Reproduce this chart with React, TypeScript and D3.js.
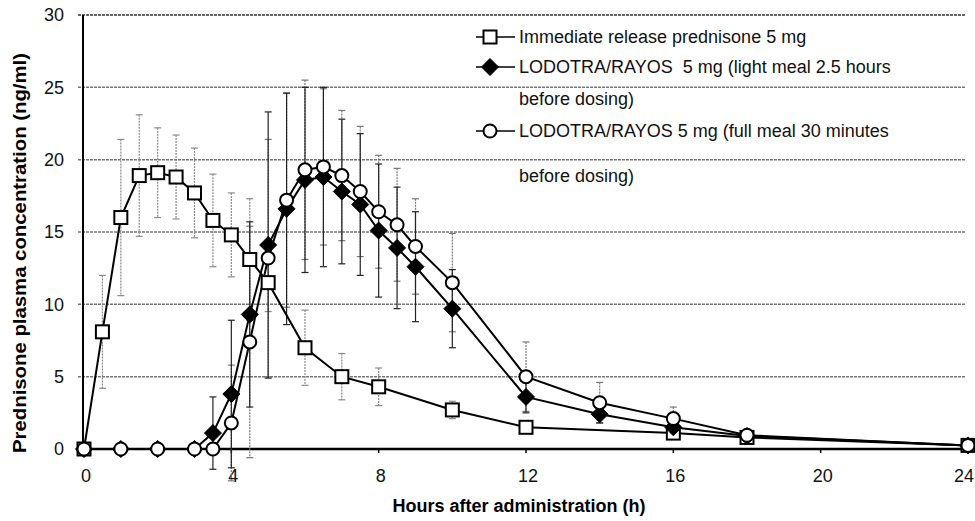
import React from "react";
import * as d3 from "d3";

const W = 975;
const H = 521;

const yTicks = [0, 5, 10, 15, 20, 25, 30];
const xTicks = [0, 4, 8, 12, 16, 20, 24];

const irTime = [0, 0.5, 1, 1.5, 2, 2.5, 3, 3.5, 4, 4.5, 5, 6, 7, 8, 10, 12, 16, 18, 24];
const irMean = [0, 8.1, 16.0, 18.9, 19.1, 18.8, 17.7, 15.8, 14.8, 13.1, 11.5, 7.0, 5.0, 4.3, 2.7, 1.5, 1.1, 0.8, 0.25];
const irSd = [0, 3.9, 5.4, 4.2, 3.1, 2.9, 3.1, 3.2, 2.9, 4.2, 2.0, 2.6, 1.6, 1.3, 0.6, 0.4, 0.3, 0.2, 0];

const mrTime = [0, 1, 2, 3, 3.5, 4, 4.5, 5, 5.5, 6, 6.5, 7, 7.5, 8, 8.5, 9, 10, 12, 14, 16, 18, 24];
const lightMean = [0, 0, 0, 0, 1.1, 3.8, 9.3, 14.1, 16.6, 18.6, 18.8, 17.8, 16.9, 15.1, 13.9, 12.6, 9.7, 3.6, 2.4, 1.5, 0.9, 0.25];
const lightSd = [0, 0, 0, 0, 2.5, 5.1, 6.4, 9.2, 8.0, 6.4, 6.2, 5.0, 4.9, 4.6, 4.2, 3.8, 2.7, 1.1, 0.6, 0.4, 0, 0];
const fullMean = [0, 0, 0, 0, 0, 1.8, 7.4, 13.2, 17.2, 19.3, 19.5, 18.9, 17.8, 16.4, 15.5, 14.0, 11.5, 5.0, 3.2, 2.1, 0.95, 0.25];
const fullSd = [0, 0, 0, 0, 0, 4.0, 8.0, 8.2, 7.4, 6.2, 5.4, 4.5, 4.5, 3.9, 3.9, 3.3, 3.4, 2.4, 1.4, 0.8, 0, 0];

const legendLabels = [
  "Immediate release prednisone 5 mg",
  "LODOTRA/RAYOS  5 mg (light meal 2.5 hours",
  "before dosing)",
  "LODOTRA/RAYOS 5 mg (full meal 30 minutes",
  "before dosing)",
];

const FONT = "'Liberation Sans', Arial, Helvetica, sans-serif";

const x = d3.scaleLinear().domain([0, 24]).range([84, 968]);
const y = d3.scaleLinear().domain([0, 30]).range([449, 15]);

const line = d3
  .line<[number, number]>()
  .x((d) => x(d[0]))
  .y((d) => y(d[1]));

function zip(t: number[], v: number[]): [number, number][] {
  return t.map((tt, i) => [tt, v[i]]);
}

function ErrorBars({ t, m, s, stroke, dash }: { t: number[]; m: number[]; s: number[]; stroke: string; dash?: string }) {
  return (
    <g stroke={stroke} strokeWidth={1.2} strokeDasharray={dash}>
      {t.map((tt, i) => {
        if (!s[i]) return null;
        const cx = x(tt);
        const y1 = y(m[i] + s[i]);
        const y2 = y(m[i] - s[i]);
        return (
          <g key={i}>
            <line x1={cx} x2={cx} y1={y1} y2={y2} />
            <line x1={cx - 3.5} x2={cx + 3.5} y1={y1} y2={y1} strokeDasharray="none" />
            <line x1={cx - 3.5} x2={cx + 3.5} y1={y2} y2={y2} strokeDasharray="none" />
          </g>
        );
      })}
    </g>
  );
}

function Square({ cx, cy }: { cx: number; cy: number }) {
  return <rect x={cx - 6.5} y={cy - 6.5} width={13} height={13} fill="#fff" stroke="#000" strokeWidth={2} />;
}
function Diamond({ cx, cy }: { cx: number; cy: number }) {
  const r = 8.5;
  return <path d={`M${cx},${cy - r}L${cx + r},${cy}L${cx},${cy + r}L${cx - r},${cy}Z`} fill="#000" stroke="#000" strokeWidth={1} />;
}
function Circle({ cx, cy }: { cx: number; cy: number }) {
  return <circle cx={cx} cy={cy} r={6.5} fill="#fff" stroke="#000" strokeWidth={2} />;
}

export default function App() {
  const ir = zip(irTime, irMean);
  const light = zip(mrTime, lightMean);
  const full = zip(mrTime, fullMean);
  const legendRowY = [37, 67, 99, 131, 176];
  const lx0 = 476;
  const lx1 = 515;
  const lm = 490;
  return (
    <svg width={W} height={H} style={{ display: "block", position: "absolute", left: 0, top: 0, background: "#fff" }} fontFamily={FONT}>
      <rect x={0} y={0} width={W} height={H} fill="#fff" />
      {/* gridlines */}
      {yTicks.filter((v) => v > 0).map((v) => (
        <line
          key={v}
          x1={78}
          x2={965}
          y1={y(v)}
          y2={y(v)}
          stroke={v === 30 ? "#333" : "#777"}
          strokeWidth={1.5}
          strokeDasharray="3 1"
        />
      ))}
      {/* axes */}
      <line x1={83} x2={83} y1={y(30)} y2={452} stroke="#000" strokeWidth={2} />
      <line x1={78} x2={968} y1={y(0)} y2={y(0)} stroke="#000" strokeWidth={2.5} />
      {xTicks.map((v) => (
        <line key={v} x1={x(v)} x2={x(v)} y1={y(0)} y2={y(0) + 4} stroke="#000" strokeWidth={1.5} />
      ))}
      {yTicks.map((v) => (
        <text key={v} x={64} y={y(v)} dy="0.35em" textAnchor="end" fontSize={18} fill="#111">
          {v}
        </text>
      ))}
      {xTicks.map((v) => (
        <text
          key={v}
          x={v === 24 ? 974 : x(v) + 2}
          y={476}
          dy="0.35em"
          textAnchor={v === 24 ? "end" : "middle"}
          fontSize={18}
          fill="#111"
        >
          {v}
        </text>
      ))}
      <text x={519} y={506} dy="0.35em" textAnchor="middle" fontSize={18} fontWeight="bold" fill="#000">
        Hours after administration (h)
      </text>
      <text
        transform={`translate(26,253) rotate(-90)`}
        textAnchor="middle"
        fontSize={19}
        fontWeight="bold"
        fill="#000"
        textLength={400}
        lengthAdjust="spacingAndGlyphs"
      >
        Prednisone plasma concentration (ng/ml)
      </text>

      {/* error bars */}
      <ErrorBars t={irTime} m={irMean} s={irSd} stroke="#8a8a8a" dash="2 1" />
      <ErrorBars t={mrTime} m={fullMean} s={fullSd} stroke="#777" dash="2 1" />
      <ErrorBars t={mrTime} m={lightMean} s={lightSd} stroke="#222" />

      {/* lines */}
      <path d={line(ir) || ""} fill="none" stroke="#000" strokeWidth={2} />
      <path d={line(light) || ""} fill="none" stroke="#000" strokeWidth={2} />
      <path d={line(full) || ""} fill="none" stroke="#000" strokeWidth={2} />

      {/* markers */}
      {ir.map((d, i) => (
        <Square key={i} cx={x(d[0])} cy={y(d[1])} />
      ))}
      {light.map((d, i) => (
        <Diamond key={i} cx={x(d[0])} cy={y(d[1])} />
      ))}
      {full.map((d, i) => (
        <Circle key={i} cx={x(d[0])} cy={y(d[1])} />
      ))}

      {/* legend */}
      <g>
        <line x1={lx0} x2={lx1} y1={legendRowY[0]} y2={legendRowY[0]} stroke="#000" strokeWidth={1.5} />
        <Square cx={lm} cy={legendRowY[0]} />
        <line x1={lx0} x2={lx1} y1={legendRowY[1]} y2={legendRowY[1]} stroke="#000" strokeWidth={1.5} />
        <Diamond cx={lm} cy={legendRowY[1]} />
        <line x1={lx0} x2={lx1} y1={legendRowY[3]} y2={legendRowY[3]} stroke="#000" strokeWidth={1.5} />
        <Circle cx={lm} cy={legendRowY[3]} />
        {legendLabels.map((l, i) => (
          <text key={i} x={519} y={legendRowY[i]} dy="0.35em" fontSize={18} fill="#111" style={{ whiteSpace: "pre" }}>
            {l}
          </text>
        ))}
      </g>
    </svg>
  );
}
